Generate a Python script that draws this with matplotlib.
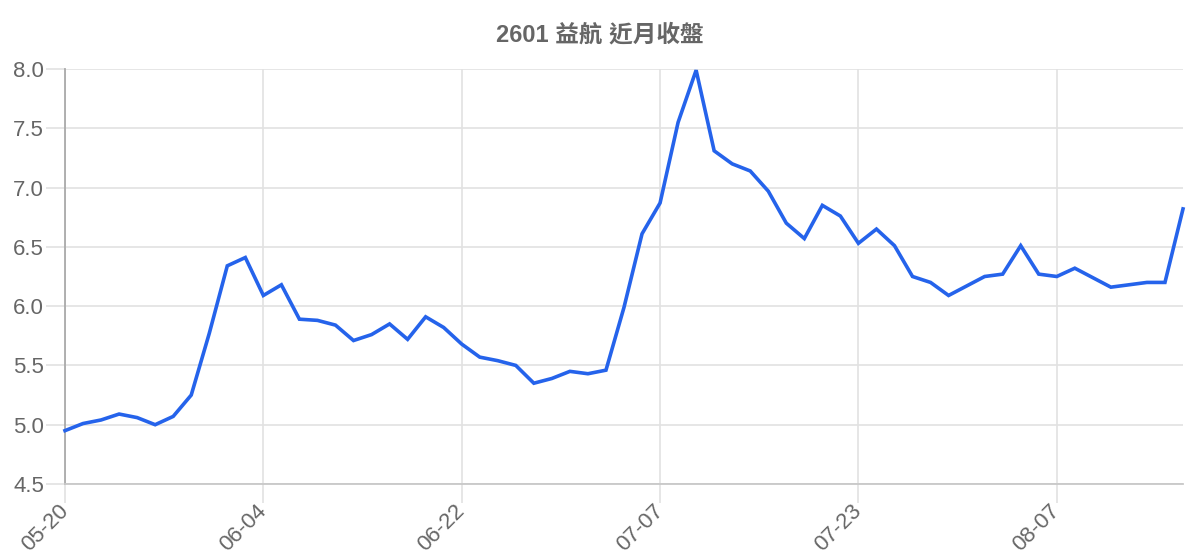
"""
2601 益航 near-month closing price line chart.
"""

import matplotlib
matplotlib.use('Agg')
import matplotlib.pyplot as plt

# closing prices, one per trading day
closes = [
    4.95, 5.01, 5.04, 5.09, 5.06, 5.00, 5.07, 5.25, 5.77, 6.34,
    6.41, 6.09, 6.18, 5.89, 5.88, 5.84, 5.71, 5.76, 5.85, 5.72,
    5.91, 5.82, 5.68, 5.57, 5.54, 5.50, 5.35, 5.39, 5.45, 5.43,
    5.46, 5.99, 6.61, 6.87, 7.55, 7.99, 7.31, 7.20, 7.14, 6.97,
    6.70, 6.57, 6.85, 6.76, 6.53, 6.65, 6.51, 6.25, 6.20, 6.09,
    6.17, 6.25, 6.27, 6.51, 6.27, 6.25, 6.32, 6.24, 6.16, 6.18,
    6.20, 6.20, 6.82,
]
tick_index = [0, 11, 22, 33, 44, 55]
tick_labels = ['05-20', '06-04', '06-22', '07-07', '07-23', '08-07']
y_ticks = [4.5, 5.0, 5.5, 6.0, 6.5, 7.0, 7.5, 8.0]

title = '2601 益航 近月收盤'

plt.rcParams['font.family'] = ['Liberation Sans', 'Noto Sans CJK TC', 'DejaVu Sans']

fig = plt.figure(figsize=(12, 5.6), dpi=100)
ax = fig.add_axes([65 / 1200, 1 - 484 / 560, (1183 - 65) / 1200, (484 - 69) / 560])

ax.plot(range(len(closes)), closes, color='#2563eb', linewidth=2.6,
        solid_joinstyle='miter', zorder=3, clip_on=False)

ax.set_xlim(0, len(closes) - 1)
ax.set_ylim(4.5, 8.0)
ax.set_yticks(y_ticks)
ax.set_yticklabels([f'{v:.1f}' for v in y_ticks])
ax.set_xticks(tick_index)
ax.set_xticklabels(tick_labels, rotation=45, ha='right', va='center',
                   rotation_mode='anchor')

ax.grid(True, color='#e2e2e2', linewidth=1.2, zorder=0)
ax.tick_params(axis='both', length=14, width=1.2, color='#e2e2e2',
               labelcolor='#666666', labelsize=16, pad=1)
ax.tick_params(axis='x', pad=3)

for side in ('top', 'right'):
    ax.spines[side].set_visible(False)
ax.spines['left'].set_color('#aaaaaa')
ax.spines['left'].set_linewidth(1.3)
ax.spines['bottom'].set_color('#c8c8c8')
ax.spines['bottom'].set_linewidth(1.3)

fig.text(0.5, 1 - 35 / 560, title, ha='center', va='center', fontsize=17,
         fontweight='bold', color='#666666')

fig.savefig('out.png', dpi=100)
